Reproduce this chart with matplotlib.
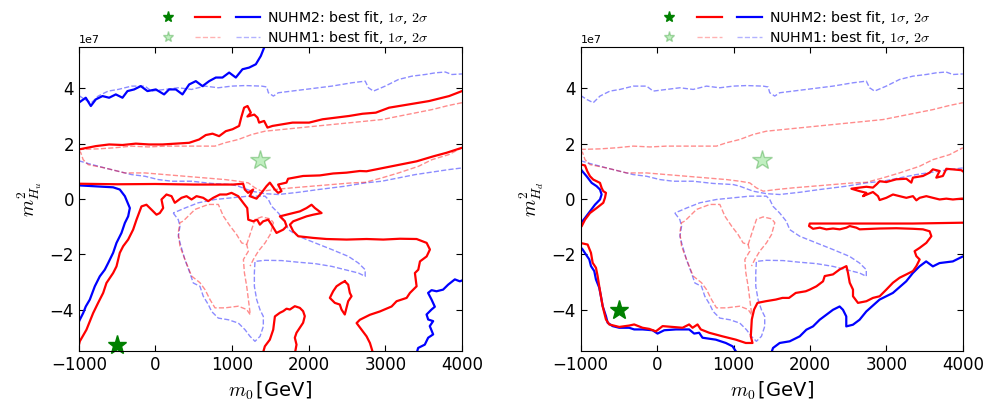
import numpy as np
import matplotlib
matplotlib.use("Agg")
import matplotlib.pyplot as plt
from matplotlib.lines import Line2D
from matplotlib.legend_handler import HandlerTuple

plt.rcParams["mathtext.fontset"] = "cm"

# contour lines: m0 [GeV], m^2 [1e7 GeV^2]
# ---- NUHM2, m_Hu^2 panel ----
hu_2s_a_x = [-1000, -909, -843, -778, -691, -604, -517, -430, -365, -278, -191, -104, 5, 113, 178, 266, 353, 440, 527, 614, 701, 788, 875, 962, 1049, 1136, 1223, 1310, 1375, 1418, 1440]
hu_2s_a_y = [3.48, 3.66, 3.36, 3.60, 3.72, 3.66, 3.78, 3.66, 3.90, 3.96, 4.08, 3.90, 3.96, 3.78, 3.96, 3.96, 3.78, 4.14, 4.26, 4.08, 4.26, 4.39, 4.39, 4.57, 4.39, 4.69, 4.75, 4.87, 5.17, 5.47, 5.7]
hu_2s_b_x = [-1000, -552, -465, -399, -334, -356, -399, -443, -508, -552, -617, -661, -726, -791, -856, -909, -943, -987, -1000]
hu_2s_b_y = [0.49, 0.42, 0.34, 0.10, -0.33, -0.63, -0.87, -1.23, -1.59, -1.95, -2.32, -2.56, -2.80, -3.16, -3.64, -3.89, -4.13, -4.37, -4.45]
hu_2s_c_x = [4000, 3972, 3907, 3820, 3754, 3668, 3603, 3558, 3603, 3646, 3603, 3538, 3559, 3624, 3580, 3624, 3559, 3515, 3428, 3407]
hu_2s_c_y = [-2.95, -2.98, -2.91, -3.10, -3.28, -3.34, -3.30, -3.40, -3.64, -3.90, -4.00, -4.18, -4.36, -4.42, -4.60, -4.90, -5.02, -5.27, -5.39, -5.6]

hu_1s_a_x = [-1000, -778, -604, -430, -256, -83, 92, 266, 440, 570, 657, 745, 831, 918, 1006, 1092, 1120, 1157, 1202, 1245, 1200, 1290, 1332, 1353, 1418, 1462, 1528, 1658, 1789, 2005, 2180, 2354, 2527, 2702, 2876, 3049, 3310, 3571, 3832, 4000]
hu_1s_a_y = [1.79, 1.91, 1.97, 1.95, 2.00, 1.97, 1.97, 2.00, 2.03, 2.15, 2.31, 2.36, 2.27, 2.45, 2.52, 2.64, 2.95, 3.30, 3.36, 3.12, 2.98, 3.05, 2.94, 2.76, 2.82, 2.58, 2.64, 2.70, 2.76, 2.76, 2.88, 2.94, 3.00, 3.08, 3.12, 3.30, 3.42, 3.54, 3.72, 3.90]
hu_1s_b_x = [-1000, -500, 0, 500, 1015, 1144, 1166, 1209, 1275, 1231, 1319, 1384, 1449, 1493, 1558, 1601, 1645, 1601, 1710, 1731, 1927, 2145, 2319, 2493, 2667, 2755, 3190, 3408, 3626, 3800, 4000]
hu_1s_b_y = [0.55, 0.53, 0.54, 0.52, 0.52, 0.55, 0.34, 0.22, 0.34, 0.10, 0.01, 0.22, 0.46, 0.59, 0.34, 0.22, 0.28, 0.52, 0.59, 0.73, 0.83, 0.85, 0.92, 0.95, 1.01, 1.00, 1.24, 1.36, 1.54, 1.67, 1.85]
hu_1s_c_x = [-1000, -987, -900, -813, -748, -682, -639, -552, -508, -465, -421, -356, -291, -247, -182, -117, -51, 14, 57, 101, 79, 144, 210, 253, 340, 406, 471, 536, 623, 688, 754, 841, 928, 993, 1080, 1145, 1198, 1211, 1276, 1328, 1363, 1406, 1472, 1515, 1580, 1668, 1711, 1689, 1624, 1711, 1798, 1885, 1972, 2037, 2081, 2168, 2059, 1972, 1798, 1755, 1798, 1863, 2059, 2233, 2494, 2755, 2973, 3191, 3408, 3539, 3582, 3539, 3452, 3430, 3386, 3408, 3321, 3278, 3147, 3082, 2929, 2799, 2668, 2625, 2690, 2755, 2799, 2842]
hu_1s_c_y = [-5.3, -5.15, -4.73, -4.13, -3.76, -3.40, -3.04, -2.68, -2.44, -1.95, -1.71, -1.47, -1.11, -0.75, -0.27, -0.21, -0.39, -0.57, -0.51, -0.33, -0.02, 0.16, 0.10, -0.14, 0.04, 0.10, -0.02, 0.10, 0.04, -0.08, 0.04, 0.16, 0.16, 0.22, 0.10, -0.14, -0.33, -0.75, -0.81, -0.75, -0.93, -0.81, -0.75, -0.93, -1.23, -1.11, -0.99, -0.81, -0.63, -0.57, -0.51, -0.45, -0.33, -0.21, -0.33, -0.51, -0.57, -0.63, -0.81, -0.93, -1.17, -1.35, -1.41, -1.45, -1.47, -1.45, -1.47, -1.44, -1.45, -1.59, -1.83, -2.08, -2.26, -2.56, -2.68, -3.16, -3.40, -3.58, -3.70, -3.89, -4.07, -4.19, -4.37, -4.49, -4.73, -4.97, -5.21, -5.6]
hu_1s_d_x = [2471, 2515, 2537, 2559, 2515, 2493, 2471, 2428, 2406, 2341, 2276, 2319, 2363, 2428, 2471]
hu_1s_d_y = [-2.98, -3.10, -3.40, -3.52, -3.70, -3.94, -4.18, -4.00, -3.82, -3.76, -3.58, -3.34, -3.16, -3.04, -2.98]
hu_1s_e_x = [1400, 1428, 1493, 1537, 1559, 1623, 1667, 1711, 1754, 1819, 1884, 1927, 1949, 1927, 1884, 1841, 1819, 1841, 1819]
hu_1s_e_y = [-5.6, -5.33, -5.09, -4.73, -4.25, -4.12, -4.06, -3.97, -4.00, -3.88, -3.94, -4.06, -4.24, -4.48, -4.66, -4.84, -5.02, -5.27, -5.6]

# ---- NUHM2, m_Hd^2 panel ----
hd_2s_a_x = [-1000, -987, -922, -856, -791, -747, -726, -747, -813, -878, -943, -987, -1000]
hd_2s_a_y = [1.1, 1.03, 0.82, 0.58, 0.46, 0.34, 0.16, -0.02, -0.21, -0.45, -0.69, -0.84, -0.86]
hd_2s_b_x = [-1000, -974, -931, -887, -865, -822, -800, -757, -735, -712, -669, -647, -582, -495, -365, -300, -190, -59, 6, 93, 246, 419, 485, 550, 594, 768, 899, 987, 1052]
hd_2s_b_y = [-1.75, -1.83, -2.01, -2.19, -2.43, -2.61, -2.91, -3.21, -3.52, -3.88, -4.24, -4.48, -4.60, -4.66, -4.66, -4.72, -4.72, -4.75, -4.87, -4.75, -4.72, -4.72, -4.87, -4.84, -5.02, -5.09, -5.21, -5.33, -5.6]
hd_2s_c_x = [1490, 1517, 1604, 1735, 1866, 1953, 2040, 2127, 2214, 2301, 2388, 2432, 2475, 2475, 2562, 2649, 2737, 2911, 3085, 3259, 3346, 3433, 3520, 3608, 3695, 3869, 4000]
hd_2s_c_y = [-5.6, -5.39, -5.21, -5.15, -4.97, -4.73, -4.61, -4.37, -4.19, -4.01, -3.89, -4.01, -4.25, -4.61, -4.55, -4.37, -4.07, -3.64, -3.40, -2.98, -2.68, -2.44, -2.26, -2.44, -2.32, -2.26, -2.08]

hd_1s_a_x = [-1000, -987, -943, -913, -878, -835, -747, -726, -704, -669, -682, -704, -791, -878, -943, -987, -1000]
hd_1s_a_y = [1.25, 1.24, 1.21, 1.00, 0.82, 0.70, 0.58, 0.40, 0.28, 0.22, 0.04, -0.14, -0.33, -0.51, -0.75, -0.99, -1.02]
hd_1s_b_x = [-1000, -974, -909, -865, -843, -800, -778, -757, -735, -712, -691, -669, -626, -495, -365, -300, -190, -103, -16, 72, 202, 333, 419, 464, 529, 572, 681, 856, 1030, 1160, 1248, 1226, 1239, 1269, 1313, 1422, 1553, 1640, 1726, 1814, 1945, 1997, 2085, 2171, 2193, 2301, 2389, 2477, 2497, 2520, 2563, 2563, 2628, 2738, 2824, 2912, 2999, 3086, 3173, 3261, 3347, 3392, 3435, 3392, 3369, 3435, 3522, 3588, 3565, 3478, 3347, 3130, 2912, 2650, 2607, 2520, 2477, 2389, 2301, 2215, 2128, 2040, 1988, 1997, 2477, 3347, 4000]
hd_1s_b_y = [-1.60, -1.61, -1.65, -1.95, -2.31, -2.49, -2.79, -3.16, -3.52, -3.88, -4.12, -4.36, -4.54, -4.63, -4.58, -4.54, -4.66, -4.70, -4.79, -4.60, -4.63, -4.66, -4.54, -4.66, -4.54, -4.72, -4.84, -4.97, -5.09, -5.21, -5.21, -4.97, -4.36, -4.00, -3.76, -3.70, -3.64, -3.58, -3.58, -3.40, -3.34, -3.28, -3.16, -2.98, -2.79, -2.73, -2.55, -2.43, -2.67, -3.03, -3.28, -3.52, -3.76, -3.70, -3.58, -3.52, -3.28, -3.03, -2.85, -2.73, -2.61, -2.43, -2.19, -2.07, -1.89, -1.77, -1.59, -1.35, -1.17, -1.10, -1.08, -1.06, -1.07, -1.10, -1.04, -0.98, -1.04, -1.10, -1.07, -1.10, -1.04, -1.08, -0.98, -0.89, -0.89, -0.89, -0.86]
hd_1s_c_x = [4000, 3980, 3784, 3739, 3653, 3696, 3608, 3565, 3478, 3347, 3326, 3261, 3130, 2999, 2912, 2869, 2824, 2738, 2650, 2542, 2650, 2738, 2694, 2824, 2890, 2912, 2999, 3086, 3173, 3261, 3347, 3392, 3435, 3522, 3608, 3696, 3784, 3870, 3980, 4000]
hd_1s_c_y = [1.0, 1.04, 1.09, 0.83, 0.77, 1.01, 1.07, 0.95, 0.83, 0.77, 0.59, 0.73, 0.71, 0.61, 0.64, 0.52, 0.41, 0.44, 0.41, 0.37, 0.28, 0.22, 0.10, 0.25, 0.10, -0.04, 0.04, 0.16, 0.10, 0.04, 0.10, -0.05, 0.04, 0.10, 0.04, -0.02, 0.01, -0.02, 0.01, 0.01]

# ---- NUHM1 (same in both panels) ----
n1_2s_a_x = [-1000, -922, -835, -747, -617, -486, -312, -138, -51, 124, 298, 472, 646, 820, 995, 1169, 1387, 1452, 1474, 1539, 1604, 1778, 1953, 2127, 2301, 2562, 2737, 2780, 2845, 2998, 3172, 3346, 3520, 3651, 3782, 3869, 4000]
n1_2s_a_y = [3.74, 3.60, 3.48, 3.72, 3.90, 3.96, 4.08, 4.08, 3.90, 3.96, 4.02, 3.96, 4.08, 4.02, 4.08, 4.10, 4.08, 4.05, 3.84, 3.72, 3.84, 3.90, 3.96, 4.02, 4.08, 4.20, 4.26, 4.02, 3.90, 4.08, 4.32, 4.44, 4.50, 4.56, 4.59, 4.50, 4.52]
n1_2s_b_x = [-1000, -878, -660, -486, -312, -138, 37, 211, 472, 733, 995, 1082, 1256, 1430, 1604, 1866, 2127, 2475, 2737, 2954, 3172, 3390, 3608, 3825, 4000]
n1_2s_b_y = [1.38, 1.28, 1.12, 1.00, 0.88, 0.82, 0.70, 0.64, 0.64, 0.56, 0.52, 0.46, 0.28, 0.19, 0.16, 0.24, 0.34, 0.46, 0.58, 0.64, 0.76, 0.88, 0.97, 1.06, 1.12]
n1_2s_c_x = [232, 298, 320, 298, 333, 385, 450, 494, 581, 624, 690, 733, 820, 951, 1082, 1169, 1234, 1299, 1365, 1408, 1408, 1365, 1321, 1291, 1291, 1299, 1430, 1648, 1866, 2083, 2301, 2475, 2649, 2737, 2737, 2649, 2519, 2301, 2083, 1866, 1735, 1691, 1604, 1517, 1474, 1430, 1212, 995, 777, 559, 385, 232]
n1_2s_c_y = [-0.51, -0.75, -0.99, -1.35, -1.71, -2.20, -2.68, -3.04, -3.16, -3.52, -3.82, -4.07, -4.31, -4.37, -4.49, -4.73, -4.97, -5.15, -4.97, -4.61, -4.25, -4.01, -3.64, -3.16, -2.68, -2.26, -2.22, -2.23, -2.29, -2.34, -2.44, -2.56, -2.68, -2.80, -2.56, -2.32, -2.08, -1.83, -1.59, -1.35, -1.11, -0.81, -0.51, -0.27, -0.02, 0.10, 0.10, 0.04, -0.02, -0.14, -0.33, -0.51]

n1_1s_a_x = [-1000, -747, -530, -312, -94, 124, 341, 559, 777, 907, 1082, 1256, 1430, 1648, 1866, 2083, 2301, 2519, 2737, 2954, 3172, 3390, 3608, 3825, 4000]
n1_1s_a_y = [1.79, 1.81, 1.85, 1.91, 1.88, 1.91, 1.91, 1.91, 1.91, 2.03, 2.15, 2.33, 2.45, 2.51, 2.57, 2.63, 2.69, 2.75, 2.81, 2.87, 2.99, 3.11, 3.23, 3.38, 3.48]
n1_1s_b_x = [-1000, -974, -943, -878, -660, -399, -138, 124, 385, 646, 907, 1082, 1212, 1299, 1387, 1561, 1778, 2040, 2301, 2562, 2737, 2954, 3172, 3433, 3608, 3825, 4000]
n1_1s_b_y = [1.75, 1.67, 1.42, 1.24, 1.12, 0.94, 0.94, 0.88, 0.82, 0.76, 0.70, 0.64, 0.58, 0.40, 0.28, 0.34, 0.40, 0.46, 0.52, 0.58, 0.60, 0.76, 0.94, 1.18, 1.42, 1.60, 1.85]
n1_1s_c_x = [1235, 1191, 1082, 908, 777, 712, 647, 581, 472, 385, 320, 298, 320, 363, 516, 690, 821, 886, 974, 1060, 1125, 1191, 1213, 1148, 1161, 1191, 1213, 1235]
n1_1s_c_y = [-4.18, -4.00, -3.88, -3.94, -3.94, -3.64, -3.28, -3.03, -2.79, -2.19, -1.71, -1.22, -0.86, -0.80, -0.38, -0.20, -0.20, -0.62, -0.98, -1.29, -1.59, -1.65, -1.89, -2.19, -2.67, -3.16, -3.64, -4.12]
n1_1s_d_x = [1191, 1256, 1300, 1387, 1497, 1540, 1497, 1431, 1343, 1278, 1235]
n1_1s_d_y = [-1.65, -1.10, -0.74, -0.65, -0.72, -0.86, -1.29, -1.59, -1.89, -2.19, -2.43]

# best fit points
nuhm2_best_m0 = -500
nuhm2_best_hu = -5.3
nuhm2_best_hd = -4.0
nuhm1_best_m0 = 1370
nuhm1_best_mh = 1.4

scale = 1e7

nuhm2_1s = {
    "hu": [(hu_1s_a_x, hu_1s_a_y), (hu_1s_b_x, hu_1s_b_y), (hu_1s_c_x, hu_1s_c_y),
           (hu_1s_d_x, hu_1s_d_y), (hu_1s_e_x, hu_1s_e_y)],
    "hd": [(hd_1s_a_x, hd_1s_a_y), (hd_1s_b_x, hd_1s_b_y), (hd_1s_c_x, hd_1s_c_y)],
}
nuhm2_2s = {
    "hu": [(hu_2s_a_x, hu_2s_a_y), (hu_2s_b_x, hu_2s_b_y), (hu_2s_c_x, hu_2s_c_y)],
    "hd": [(hd_2s_a_x, hd_2s_a_y), (hd_2s_b_x, hd_2s_b_y), (hd_2s_c_x, hd_2s_c_y)],
}
nuhm1_1s = [(n1_1s_a_x, n1_1s_a_y), (n1_1s_b_x, n1_1s_b_y), (n1_1s_c_x, n1_1s_c_y), (n1_1s_d_x, n1_1s_d_y)]
nuhm1_2s = [(n1_2s_a_x, n1_2s_a_y), (n1_2s_b_x, n1_2s_b_y), (n1_2s_c_x, n1_2s_c_y)]
best_nuhm2 = {"hu": nuhm2_best_hu, "hd": nuhm2_best_hd}
ylabels = {"hu": r"$m^2_{H_u}$", "hd": r"$m^2_{H_d}$"}

fig = plt.figure(figsize=(9.85, 4.11), dpi=100)
axes = [fig.add_axes([0.080, 0.146, 0.389, 0.740]),
        fig.add_axes([0.5895, 0.146, 0.388, 0.740])]

for ax, key in zip(axes, ["hu", "hd"]):
    for x, y in nuhm1_2s:
        ax.plot(x, np.array(y) * scale, color="blue", ls="--", lw=1, alpha=0.45)
    for x, y in nuhm1_1s:
        ax.plot(x, np.array(y) * scale, color="red", ls="--", lw=1, alpha=0.45)
    for x, y in nuhm2_2s[key]:
        ax.plot(x, np.array(y) * scale, color="blue", lw=1.6)
    for x, y in nuhm2_1s[key]:
        ax.plot(x, np.array(y) * scale, color="red", lw=1.6)

    ax.plot(nuhm1_best_m0, nuhm1_best_mh * scale, marker="*", ms=15, color="limegreen",
            alpha=0.3, mec="green", ls="none")
    ax.plot(nuhm2_best_m0, best_nuhm2[key] * scale, marker="*", ms=14, color="green", ls="none",
            clip_on=False)

    ax.set_xlim(-1000, 4000)
    ax.set_ylim(-5.5e7, 5.5e7)
    ax.set_xticks([-1000, 0, 1000, 2000, 3000, 4000])
    ax.set_yticks([-4e7, -2e7, 0, 2e7, 4e7])
    ax.tick_params(direction="in", top=True, right=True, labelsize=12, length=4)
    ax.yaxis.get_offset_text().set_fontsize(8)
    ax.set_xlabel(r"$m_0\,$[GeV]", fontsize=14)
    ax.set_ylabel(ylabels[key], fontsize=14)

    h2 = (Line2D([], [], marker="*", ms=8, color="green", ls="none"),
          Line2D([], [], color="red", lw=1.6),
          Line2D([], [], color="blue", lw=1.6))
    h1 = (Line2D([], [], marker="*", ms=8, color="limegreen", alpha=0.3, mec="green", ls="none"),
          Line2D([], [], color="red", lw=1, ls="--", alpha=0.3),
          Line2D([], [], color="blue", lw=1, ls="--", alpha=0.3))
    ax.legend([h2, h1], [r"NUHM2: best fit, $1\sigma$, $2\sigma$", r"NUHM1: best fit, $1\sigma$, $2\sigma$"],
              handler_map={tuple: HandlerTuple(ndivide=None, pad=1.1)},
              loc="lower left", bbox_to_anchor=(0.185, 0.985), borderaxespad=0,
              frameon=False, fontsize=10.2, handlelength=7.4, handletextpad=0.5,
              labelspacing=0.2)

fig.savefig("out.png", dpi=100)
